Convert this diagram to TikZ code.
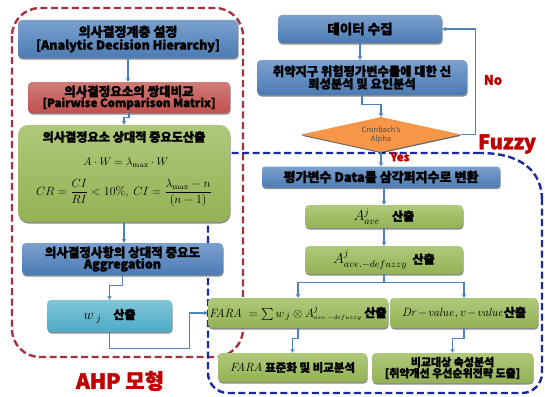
\documentclass[tikz,border=0pt]{standalone}
\usepackage{amsmath}
\usepackage[no-math]{fontspec}
\setmainfont{Noto Sans CJK KR}[BoldFeatures={FakeBold=2}]
\usetikzlibrary{shadows,arrows.meta,calc,shapes.geometric}
\definecolor{bl}{HTML}{4F81BD}
\definecolor{rd}{HTML}{C0504D}
\definecolor{gr}{HTML}{9BBB59}
\definecolor{tl}{HTML}{4BACC6}
\definecolor{og}{HTML}{F79646}
\definecolor{dred}{HTML}{A3333D}
\definecolor{navy}{HTML}{1A2A9A}
\definecolor{lab}{HTML}{C00000}
\begin{document}
\begin{tikzpicture}[x=1pt,y=-1pt,
  box/.style={rounded corners=4pt, inner sep=1pt, align=center, text=black,
    font=\bfseries\fontsize{12}{13.5}\selectfont,
    drop shadow={shadow xshift=0.6pt, shadow yshift=-1.6pt, opacity=0.45, fill=black}},
  bluebox/.style={box, top color=bl!75!white, bottom color=bl!95!black},
  redbox/.style={box, top color=rd!75!white, bottom color=rd},
  greenbox/.style={box, top color=gr!80!white, bottom color=gr!95!black},
  tealbox/.style={box, top color=tl!70!white, bottom color=tl},
  arr/.style={draw=bl, line width=1.1pt, -{Stealth[length=4pt,width=4.5pt]}},
  reddash/.style={draw=dred, line width=2.4pt, dash pattern=on 7pt off 3.5pt},
  bluedash/.style={draw=navy, line width=2.4pt, dash pattern=on 7pt off 3.5pt},
  lbl/.style={text=lab, font=\bfseries\fontsize{12}{14}\selectfont, inner sep=0pt}
]
\useasboundingbox (0,0) rectangle (545,396);
% group borders
\draw[reddash, rounded corners=28pt] (12,8) rectangle (243,357);
\draw[bluedash, rounded corners=20pt] (480,153) -- (208,153) -- (208,393) -- (542,393) -- (542,200);
\draw[bluedash] (542,200) .. controls (542,172) and (522,153) .. (480,153);

% left column (AHP)
\node[bluebox, minimum width=220pt, minimum height=38pt, font=\bfseries\fontsize{13}{14}\selectfont] (n1) at (128,39)
  {의사결정계층 설정\\[-1pt]{\fontsize{12.5}{13}\selectfont [Analytic Decision Hierarchy]}};
\node[redbox, minimum width=202pt, minimum height=31pt, font=\bfseries\fontsize{12.5}{13}\selectfont] (n2) at (129,97.5)
  {의사결정요소의 쌍대비교\\[-2pt]{\fontsize{11.5}{12.5}\selectfont [Pairwise Comparison Matrix]}};
\node[greenbox, rounded corners=10pt, minimum width=212pt, minimum height=97pt] (n3) at (124,173.5) {};
\node[font=\bfseries\fontsize{12.2}{13}\selectfont, inner sep=0pt] (n3t) at (124,137) {의사결정요소 상대적 중요도산출};
\node[inner sep=0pt, font=\fontsize{11}{13}\selectfont] (n3a) at (126,163) {$A\cdot W=\lambda_{\max}\cdot W$};
\node[inner sep=0pt, font=\fontsize{11.5}{13}\selectfont] (n3b) at (124,193)
  {$CR=\dfrac{CI}{RI}<10\%,\ CI=\dfrac{\lambda_{\max}-n}{(n-1)}$};
\node[bluebox, minimum width=201pt, minimum height=32pt, font=\bfseries\fontsize{12.5}{13.5}\selectfont] (n4) at (122.5,259)
  {의사결정사항의 상대적 중요도\\[-2pt]Aggregation};
\node[tealbox, minimum width=125pt, minimum height=32pt] (n5) at (109.5,316)
  {{\fontsize{14}{15}\selectfont$w_{\;j}$}\quad 산출};

% right column
\node[bluebox, minimum width=164pt, minimum height=28pt, font=\bfseries\fontsize{13.5}{14}\selectfont] (d1) at (360,29) {데이터 수집};
\node[bluebox, minimum width=210pt, minimum height=35pt, font=\bfseries\fontsize{12.3}{13.5}\selectfont] (d2) at (362,77.5)
  {취약지구 위험평가변수들에 대한 신\\[-1pt]뢰성분석 및 요인분석};
\node[shape=diamond, aspect=4.6, minimum width=160pt, minimum height=35pt, inner sep=0pt,
  fill=og, text=black!70, align=center, font=\fontsize{7.5}{9}\selectfont,
  drop shadow={shadow xshift=0.5pt, shadow yshift=-1.2pt, opacity=0.6, fill=black}] (dia) at (381,134.5)
  {Cronbach's\\Alpha};
\node[bluebox, rounded corners=3pt, minimum width=238pt, minimum height=21pt, font=\bfseries\fontsize{13}{14}\selectfont] (f1) at (381,177)
  {평가변수 Data를 삼각퍼지수로 변환};
\node[greenbox, minimum width=158pt, minimum height=23pt] (f2) at (384,216.5)
  {{\fontsize{14}{15}\selectfont$A^{j}_{ave}$}\quad 산출};
\node[greenbox, minimum width=158pt, minimum height=28pt] (f3) at (384,260)
  {{\fontsize{14}{15}\selectfont$A^{j}_{ave.-defuzzy}$}\ \ 산출};
\node[greenbox, minimum width=180pt, minimum height=30pt] (f4) at (298,313)
  {{\fontsize{12.5}{14}\selectfont$\mathit{FARA}\;=\sum w_{\,j}\otimes A^{j}_{\scriptscriptstyle ave.-defuzzy}$}\ 산출};
\node[greenbox, minimum width=148pt, minimum height=30pt] (f5) at (464,313)
  {{\fontsize{12.5}{14}\selectfont$\mathit{Dr}\!-\!\mathit{value}, v\!-\!\mathit{value}$}산출};
\node[greenbox, minimum width=149pt, minimum height=29pt, font=\bfseries\fontsize{11.5}{13}\selectfont] (f6) at (292.5,367.5)
  {{\fontsize{12.5}{13}\selectfont$\mathit{FARA}$} 표준화 및 비교분석};
\node[greenbox, minimum width=161pt, minimum height=30pt, font=\bfseries\fontsize{11}{12}\selectfont] (f7) at (452.5,368)
  {비교대상 속성분석\\[-1pt][취약개선 우선순위전략 도출]};

% connectors
\draw[arr] (n1.south) -- (n1.south |- n2.north);
\draw[arr] (n2.south) -- ++(0,4) -| (n3.north);
\draw[arr] (n3.south) -- (n3.south |- n4.north);
\draw[arr] (n4.south) -- ++(0,10) -| (n5.north);
\draw[arr] (n5.south) -- ++(0,16) -| ([xshift=-18pt]f4.west) -- (f4.west);
\draw[arr] (d1.south) -- (d1.south |- d2.north);
\draw[arr] (d2.south) -- ++(0,9) -| (dia.north);
\draw[arr] (dia.east) -- ++(14,0) |- (d1.east);
\draw[arr] (dia.south) -- (dia.south |- f1.north);
\draw[arr] (f1.south) -- (f1.south -| f2.north) -- (f2.north);
\draw[arr] (f2.south) -- (f3.north);
\draw[arr] (f3.south) -- ++(0,8) -| (f4.north);
\draw[arr] (f3.south) -- ++(0,8) -| (f5.north);
\draw[arr] (f4.south) -- ++(0,10) -| (f6.north);
\draw[arr] (f5.south) -- ++(0,10) -| (f7.north);

% labels
\node[lbl, font=\bfseries\fontsize{13}{14}\selectfont] (no) at (493,80) {No};
\node[lbl, font=\bfseries\fontsize{11.5}{13}\selectfont] (yes) at (400,157) {Yes};
\node[lbl, font=\bfseries\fontsize{20}{22}\selectfont] (fz) at (507,144) {Fuzzy};
\node[lbl, font=\bfseries\fontsize{21}{23}\selectfont] (ahp) at (120,381) {AHP 모형};
\end{tikzpicture}
\end{document}
